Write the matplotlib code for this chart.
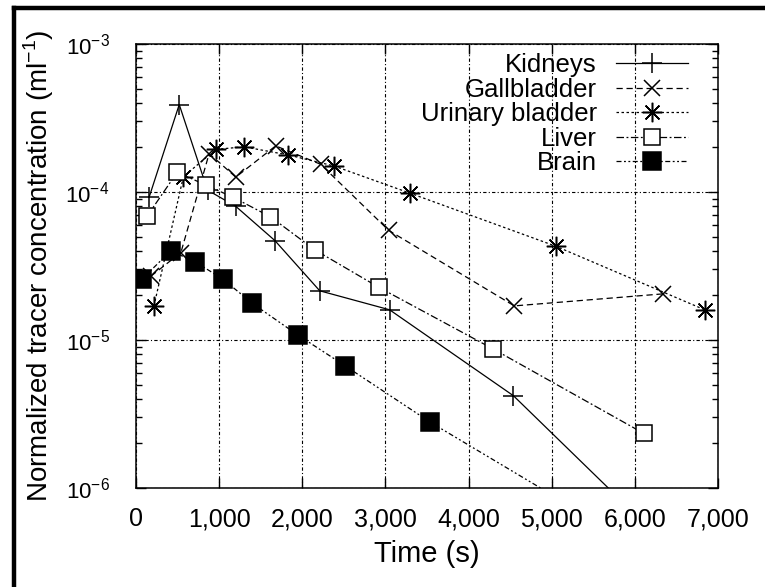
import math
import matplotlib
matplotlib.use('Agg')
import matplotlib.pyplot as plt
from matplotlib.lines import Line2D
from matplotlib.ticker import FixedLocator, FuncFormatter, LogLocator, NullFormatter

plt.rcParams['font.family'] = ['Liberation Sans', 'DejaVu Sans']
plt.rcParams['mathtext.fontset'] = 'custom'
plt.rcParams['mathtext.rm'] = 'Liberation Sans'

# time (s) and normalized concentration (ml^-1)
kidneys_t = [160, 520, 860, 1200, 1670, 2210, 3050, 4540, 6200]
kidneys_c = [9.3e-5, 3.9e-4, 1.03e-4, 8.0e-5, 4.7e-5, 2.15e-5, 1.6e-5, 4.2e-6, 5.2e-7]

gall_t = [180, 540, 880, 1200, 1680, 2220, 3040, 4550, 6340]
gall_c = [2.7e-5, 3.9e-5, 1.82e-4, 1.26e-4, 2.05e-4, 1.54e-4, 5.5e-5, 1.7e-5, 2.05e-5]

urinary_t = [216, 570, 960, 1300, 1830, 2380, 3300, 5050, 6840]
urinary_c = [1.7e-5, 1.27e-4, 1.94e-4, 2.02e-4, 1.78e-4, 1.5e-4, 9.8e-5, 4.3e-5, 1.6e-5]

liver_t = [136, 496, 845, 1170, 1617, 2152, 2920, 4295, 6106]
liver_c = [6.9e-5, 1.36e-4, 1.11e-4, 9.2e-5, 6.8e-5, 4.06e-5, 2.27e-5, 8.7e-6, 2.34e-6]

brain_t = [70, 417, 709, 1049, 1398, 1947, 2519, 3541, 5900]
brain_c = [2.57e-5, 4.0e-5, 3.38e-5, 2.57e-5, 1.77e-5, 1.08e-5, 6.67e-6, 2.78e-6, 4.5e-7]

x_ticks = [0, 1000, 2000, 3000, 4000, 5000, 6000, 7000]
x_labels = ['0', '1,000', '2,000', '3,000', '4,000', '5,000', '6,000', '7,000']

fig = plt.figure(figsize=(7.65, 5.87), dpi=100)
ax = fig.add_axes([136 / 765, 1 - 488 / 587, (718 - 136) / 765, (488 - 44) / 587])

lw = 0.9
ax.plot(kidneys_t, kidneys_c, color='k', lw=lw, ls='-', marker='+', ms=14, mew=1.1,
        label='Kidneys')
ax.plot(gall_t, gall_c, color='k', lw=lw, ls=(0, (5, 3)), marker='x', ms=12, mew=1.1,
        label='Gallbladder')
ax.plot(urinary_t, urinary_c, color='k', lw=lw, ls=(0, (2, 2)), marker=(8, 2, 0), ms=14,
        mew=1.1, label='Urinary bladder')
ax.plot(liver_t, liver_c, color='k', lw=lw, ls=(0, (6, 2, 1.5, 2)), marker='s', ms=12,
        mfc='white', mew=1.1, label='Liver')
ax.plot(brain_t, brain_c, color='k', lw=lw, ls=(0, (4, 2, 1.5, 2, 1.5, 2)), marker='s',
        ms=13, mfc='black', mew=1.1, label='Brain')

ax.set_yscale('log')
ax.set_xlim(0, 7000)
ax.set_ylim(1e-6, 1e-3)

ax.xaxis.set_major_locator(FixedLocator(x_ticks))
ax.set_xticklabels(x_labels)
ax.yaxis.set_major_locator(LogLocator(base=10, numticks=10))
ax.yaxis.set_minor_locator(LogLocator(base=10, subs=range(2, 10), numticks=20))
ax.yaxis.set_major_formatter(FuncFormatter(lambda v, p: r'$\mathregular{10^{%d}}$' % round(math.log10(v))))
ax.yaxis.set_minor_formatter(NullFormatter())

ax.tick_params(which='both', direction='in', top=True, right=True, width=1, colors='k')
ax.tick_params(which='major', length=7)
ax.tick_params(axis='x', which='major', pad=14, labelsize=18)
ax.tick_params(axis='y', which='major', pad=19, labelsize=16)
ax.tick_params(which='minor', length=4)

for s in ax.spines.values():
    s.set_linewidth(1.1)

ax.grid(True, which='major', color='k', ls=(0, (3, 2, 1, 2)), lw=0.8)

ax.set_xlabel('Time (s)', fontsize=21, labelpad=6)
ax.set_ylabel(r'Normalized tracer concentration (ml$^{\mathregular{-1}}$)', fontsize=20)
ax.yaxis.set_label_coords((56 - 136) / 582, 0.5)

leg = ax.legend(loc='upper right', bbox_to_anchor=(688 / 765, 1 - 53 / 587),
                bbox_transform=fig.transFigure, frameon=False, markerfirst=False,
                fontsize=18.5, handlelength=2.8, handletextpad=0.75, labelspacing=0.02,
                borderpad=0, borderaxespad=0)

# thick frame on top and left of the picture
fig.add_artist(Line2D([13.5 / 765, 13.5 / 765], [0, 1 - 8 / 587], transform=fig.transFigure,
                      color='k', lw=3.2, solid_capstyle='projecting'))
fig.add_artist(Line2D([13.5 / 765, 1], [1 - 8 / 587, 1 - 8 / 587], transform=fig.transFigure,
                      color='k', lw=3.2, solid_capstyle='projecting'))

fig.savefig('out.png', dpi=100)
